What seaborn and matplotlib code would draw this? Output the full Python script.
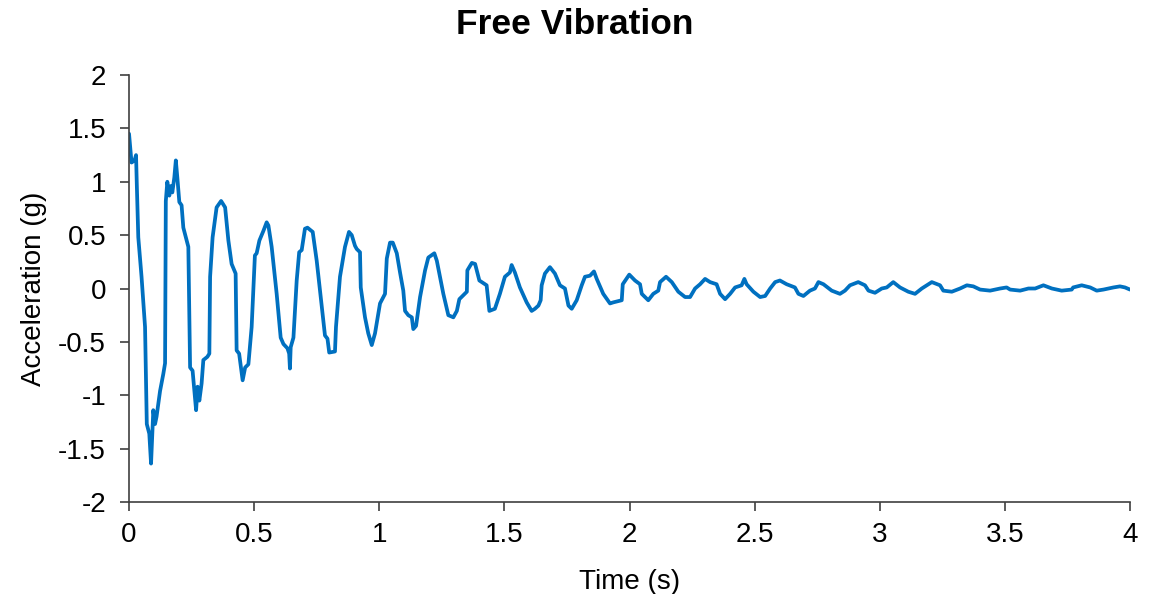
"""
Free Vibration
Acceleration response of a single free-vibration test (values read off the chart).
"""

import pandas as pd
import seaborn as sns
import matplotlib
matplotlib.use("Agg")
import matplotlib.pyplot as plt


# ---------------------------
# Data
# ---------------------------

time_s = [
    0.000, 0.010, 0.022, 0.028, 0.031, 0.037, 0.050, 0.064, 0.071, 0.081,
    0.088, 0.097, 0.104, 0.110, 0.124, 0.137, 0.144, 0.147, 0.153, 0.161,
    0.167, 0.173, 0.181, 0.187, 0.193, 0.201, 0.210, 0.217, 0.237, 0.244,
    0.254, 0.268, 0.274, 0.281, 0.290, 0.297, 0.313, 0.321, 0.324, 0.334,
    0.350, 0.368, 0.384, 0.397, 0.410, 0.426, 0.430, 0.440, 0.454, 0.464,
    0.477, 0.490, 0.503, 0.510, 0.521, 0.537, 0.550, 0.557, 0.570, 0.590,
    0.606, 0.617, 0.633, 0.640, 0.643, 0.646, 0.657, 0.670, 0.680, 0.690,
    0.703, 0.713, 0.734, 0.750, 0.770, 0.783, 0.793, 0.800, 0.823, 0.827,
    0.843, 0.863, 0.879, 0.890, 0.903, 0.910, 0.923, 0.926, 0.943, 0.956,
    0.970, 0.983, 1.003, 1.023, 1.030, 1.043, 1.054, 1.070, 1.083, 1.096,
    1.103, 1.116, 1.130, 1.136, 1.147, 1.163, 1.183, 1.196, 1.220, 1.230,
    1.256, 1.276, 1.296, 1.310, 1.320, 1.350, 1.352, 1.370, 1.383, 1.400,
    1.429, 1.440, 1.462, 1.482, 1.502, 1.522, 1.529, 1.542, 1.562, 1.589,
    1.609, 1.622, 1.636, 1.645, 1.649, 1.662, 1.682, 1.702, 1.722, 1.742,
    1.756, 1.769, 1.789, 1.809, 1.822, 1.842, 1.858, 1.869, 1.895, 1.922,
    1.935, 1.969, 1.973, 1.999, 2.022, 2.042, 2.049, 2.075, 2.095, 2.115,
    2.122, 2.146, 2.169, 2.195, 2.222, 2.242, 2.262, 2.282, 2.302, 2.322,
    2.348, 2.362, 2.382, 2.402, 2.422, 2.448, 2.459, 2.468, 2.495, 2.522,
    2.542, 2.562, 2.582, 2.601, 2.628, 2.661, 2.675, 2.695, 2.721, 2.741,
    2.755, 2.775, 2.808, 2.841, 2.861, 2.881, 2.914, 2.941, 2.955, 2.981,
    3.008, 3.028, 3.054, 3.081, 3.114, 3.141, 3.168, 3.208, 3.241, 3.254,
    3.288, 3.321, 3.348, 3.374, 3.401, 3.441, 3.481, 3.507, 3.521, 3.561,
    3.594, 3.621, 3.654, 3.688, 3.727, 3.767, 3.773, 3.807, 3.841, 3.867,
    3.894, 3.934, 3.960, 3.980, 4.000,
]

accel_g = [
    1.45, 1.18, 1.20, 1.25, 0.98, 0.48, 0.11, -0.36, -1.27, -1.36,
    -1.64, -1.14, -1.27, -1.20, -0.96, -0.80, -0.70, 0.82, 1.00, 0.87,
    0.96, 0.90, 1.04, 1.20, 1.04, 0.81, 0.78, 0.57, 0.39, -0.74,
    -0.77, -1.14, -0.92, -1.05, -0.89, -0.67, -0.64, -0.61, 0.11, 0.48,
    0.76, 0.82, 0.76, 0.45, 0.23, 0.14, -0.58, -0.61, -0.86, -0.74,
    -0.71, -0.36, 0.31, 0.33, 0.45, 0.54, 0.62, 0.59, 0.39, -0.05,
    -0.46, -0.52, -0.56, -0.61, -0.75, -0.55, -0.46, 0.075, 0.34, 0.36,
    0.56, 0.57, 0.53, 0.26, -0.17, -0.44, -0.47, -0.60, -0.59, -0.36,
    0.11, 0.39, 0.53, 0.50, 0.40, 0.37, 0.34, 0.01, -0.27, -0.42,
    -0.53, -0.42, -0.14, -0.05, 0.28, 0.43, 0.43, 0.33, 0.15, -0.02,
    -0.21, -0.25, -0.27, -0.38, -0.35, -0.08, 0.17, 0.29, 0.33, 0.26,
    -0.05, -0.25, -0.27, -0.21, -0.10, -0.03, 0.17, 0.24, 0.23, 0.075,
    0.03, -0.21, -0.19, -0.05, 0.11, 0.15, 0.22, 0.15, 0.01, -0.13,
    -0.21, -0.19, -0.16, -0.11, 0.03, 0.14, 0.20, 0.14, 0.03, 0.00,
    -0.16, -0.19, -0.11, 0.03, 0.11, 0.12, 0.16, 0.09, -0.05, -0.14,
    -0.13, -0.11, 0.04, 0.13, 0.075, 0.04, -0.05, -0.11, -0.05, -0.02,
    0.06, 0.11, 0.06, -0.03, -0.08, -0.08, 0.00, 0.04, 0.09, 0.06,
    0.04, -0.05, -0.10, -0.05, 0.01, 0.03, 0.09, 0.04, -0.03, -0.08,
    -0.07, 0.00, 0.06, 0.075, 0.04, 0.01, -0.05, -0.07, -0.02, 0.00,
    0.06, 0.04, -0.02, -0.05, -0.02, 0.03, 0.06, 0.03, -0.02, -0.04,
    0.00, 0.01, 0.06, 0.01, -0.03, -0.05, 0.00, 0.06, 0.03, -0.02,
    -0.03, 0.00, 0.03, 0.02, -0.01, -0.02, 0.00, 0.01, -0.01, -0.02,
    0.00, 0.00, 0.03, 0.00, -0.02, -0.01, 0.01, 0.03, 0.01, -0.02,
    -0.01, 0.01, 0.02, 0.01, -0.01,
]

x_ticks = [0, 0.5, 1, 1.5, 2, 2.5, 3, 3.5, 4]
x_tick_labels = ["0", "0.5", "1", "1.5", "2", "2.5", "3", "3.5", "4"]
y_ticks = [-2, -1.5, -1, -0.5, 0, 0.5, 1, 1.5, 2]
y_tick_labels = ["-2", "-1.5", "-1", "-0.5", "0", "0.5", "1", "1.5", "2"]

data = pd.DataFrame({"Time (s)": time_s, "Acceleration (g)": accel_g})


# ---------------------------
# Plot style
# ---------------------------

sns.set_theme(style="white")
plt.rcParams['font.family'] = ['Liberation Sans', 'DejaVu Sans']

LINE_COLOR = "#0070C0"
AXIS_COLOR = "#404040"


# ---------------------------
# Create figure
# ---------------------------

fig = plt.figure(figsize=(11.5, 5.94), dpi=100)
ax = fig.add_axes([0.1122, 0.1549, 0.8704, 0.7188])

sns.lineplot(
    data=data,
    x="Time (s)",
    y="Acceleration (g)",
    ax=ax,
    color=LINE_COLOR,
    linewidth=2.7,
    sort=False,
    estimator=None,
    solid_joinstyle="round",
    solid_capstyle="round"
)


# ---------------------------
# Axis configuration
# ---------------------------

ax.set_xlim(0, 4)
ax.set_ylim(-2, 2)
ax.set_xticks(x_ticks)
ax.set_xticklabels(x_tick_labels)
ax.set_yticks(y_ticks)
ax.set_yticklabels(y_tick_labels)

ax.set_xlabel("Time (s)", fontsize=20, color="black", labelpad=15)
ax.set_ylabel("Acceleration (g)", fontsize=20, color="black", labelpad=8)

# title is centred on the whole figure, not on the axes
fig.text(0.5, 1 - 24 / 594, "Free Vibration", fontsize=25.5,
         fontweight="bold", color="black", ha="center", va="center")

ax.grid(False)

for spine_location, spine in ax.spines.items():
    if spine_location in ["left", "bottom"]:
        spine.set_visible(True)
        spine.set_color(AXIS_COLOR)
        spine.set_linewidth(1.2)
    else:
        spine.set_visible(False)

ax.tick_params(
    axis="both",
    which="major",
    direction="out",
    length=6.5,
    width=1.2,
    color=AXIS_COLOR,
    labelsize=20,
    labelcolor="black"
)
ax.tick_params(axis="y", pad=10)
ax.tick_params(axis="x", pad=8)
ax.yaxis.set_ticks_position("left")
ax.xaxis.set_ticks_position("bottom")


# ---------------------------
# Save figure
# ---------------------------

fig.savefig("out.png", dpi=100)
